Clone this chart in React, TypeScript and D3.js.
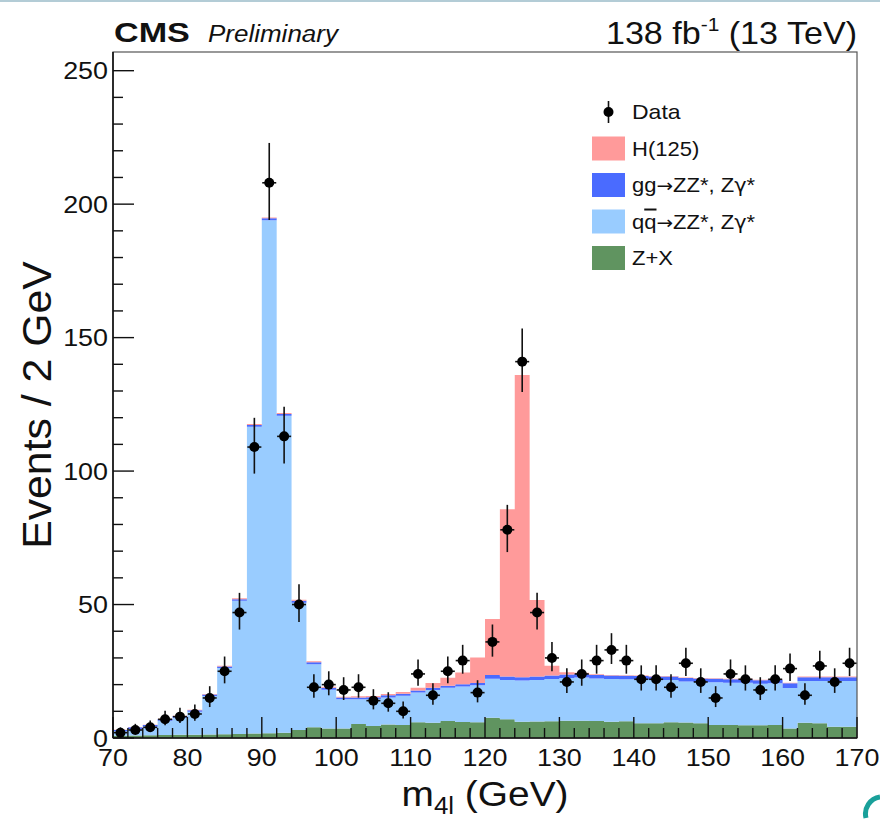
import React from 'react';
import * as d3 from 'd3';

// ---- data (2 GeV bins, 70-170 GeV) ----
const binCenters = [71, 73, 75, 77, 79, 81, 83, 85, 87, 89, 91, 93, 95, 97, 99, 101, 103, 105, 107, 109,
  111, 113, 115, 117, 119, 121, 123, 125, 127, 129, 131, 133, 135, 137, 139, 141, 143, 145, 147, 149,
  151, 153, 155, 157, 159, 161, 163, 165, 167, 169];

const dataCounts = [2, 3, 4, 7, 8, 9, 15, 25, 47, 109, 208, 113, 50, 19, 20, 18, 19, 14, 13, 10,
  24, 16, 25, 29, 17, 36, 78, 141, 47, 30, 21, 24, 29, 33, 29, 22, 22, 19, 28, 21,
  15, 24, 22, 18, 22, 26, 16, 27, 21, 28];

const zPlusX = [0.8, 0.9, 1.0, 1.1, 1.2, 1.2, 1.3, 1.4, 1.5, 1.7, 1.8, 2.0, 3.0, 4.0, 3.6, 3.6, 5.2, 4.5, 5.1, 4.9,
  5.9, 5.7, 6.4, 6.0, 5.9, 7.6, 7.0, 6.1, 6.2, 6.3, 6.5, 6.5, 6.4, 6.1, 6.3, 5.5, 5.5, 5.9, 5.8, 5.5,
  4.9, 4.9, 4.8, 4.8, 4.9, 3.6, 5.7, 5.5, 4.2, 4.2];

const qqZZ = [1.7, 2.5, 3.3, 5.4, 6.4, 8.6, 14.4, 24.8, 49.9, 114.9, 192.2, 118.7, 47.7, 23.6, 14.5, 10.9, 9.3, 10.1, 10.1, 10.9,
  11.1, 12.3, 12.4, 13.3, 13.9, 14.6, 14.7, 15.4, 15.5, 15.8, 16.0, 16.2, 15.9, 16.0, 15.7, 16.4, 16.2, 15.8, 15.4, 15.5,
  16.0, 15.8, 15.9, 15.5, 15.6, 15.1, 15.7, 15.9, 17.2, 17.2];

const ggZZ = [0.5, 0.6, 0.6, 0.6, 0.6, 0.6, 0.6, 0.6, 0.6, 0.7, 0.7, 0.7, 0.7, 0.8, 0.7, 0.7, 0.7, 0.7, 0.8, 0.8,
  0.8, 0.8, 0.8, 0.8, 0.8, 1.4, 1.3, 1.3, 1.3, 1.3, 1.3, 1.3, 1.3, 1.3, 1.3, 1.3, 1.3, 1.3, 1.3, 1.3,
  1.3, 1.3, 1.3, 1.3, 1.3, 1.8, 1.4, 1.4, 1.4, 1.4];

const higgs = [0.1, 0.1, 0.1, 0.1, 0.1, 0.2, 0.2, 0.3, 0.4, 0.3, 0.3, 0.4, 0.4, 0.4, 0.4, 0.3, 0.4, 0.4, 0.5, 0.6,
  1.0, 1.8, 3.0, 4.4, 9.6, 21.0, 62.7, 113.2, 28.7, 3.7, 0.8, 0.4, 0.3, 0.2, 0.2, 0.2, 0.2, 0.2, 0.2, 0.2,
  0.2, 0.2, 0.2, 0.2, 0.2, 0.2, 0.2, 0.2, 0.2, 0.2];

const xTickLabels = [70, 80, 90, 100, 110, 120, 130, 140, 150, 160, 170];
const yTickLabels = [0, 50, 100, 150, 200, 250];

const processKeys = ['zx', 'qq', 'gg', 'h'];
const processColors: Record<string, string> = { zx: '#609460', qq: '#99ccff', gg: '#4a6bff', h: '#ff9a9a' };
const legendEntries = [
  { key: 'h', label: 'H(125)' },
  { key: 'gg', label: 'gg' },
  { key: 'qq', label: 'qq' },
  { key: 'zx', label: 'Z+X' },
];

const FONT = '"Liberation Sans", Arial, Helvetica, sans-serif';
const SYM = '"DejaVu Sans", "Liberation Sans", sans-serif';

function SText(props: any) {
  const { x, y, sx = 1.15, rot = 0, anchor = 'start', children, ...rest } = props;
  const tr = `translate(${x},${y})` + (rot ? ` rotate(${rot})` : '') + ` scale(${sx},1)`;
  return (
    <text transform={tr} textAnchor={anchor} fill="#111" {...rest}>{children}</text>
  );
}

export default function App() {
  const W = 880, H = 822;
  const L = 113, R = 857, T = 52, B = 738;
  const x = d3.scaleLinear().domain([70, 170]).range([L, R]);
  const y = d3.scaleLinear().domain([0, 257]).range([B, T]);
  const binW = 2;

  const rows = binCenters.map((c, i) => ({ c, zx: zPlusX[i], qq: qqZZ[i], gg: ggZZ[i], h: higgs[i] }));
  const stacked = d3.stack<any>().keys(processKeys)(rows);

  type P = { xv: number; y0: number; y1: number };
  const area = d3.area<P>()
    .curve(d3.curveStepAfter)
    .x((p) => x(p.xv))
    .y0((p) => y(p.y0))
    .y1((p) => y(p.y1));

  const layerPaths = stacked.map((s) => {
    const pts: P[] = s.map((d, i) => ({ xv: binCenters[i] - binW / 2, y0: d[0], y1: d[1] }));
    const last = s[s.length - 1];
    pts.push({ xv: binCenters[binCenters.length - 1] + binW / 2, y0: last[0], y1: last[1] });
    return { key: s.key as string, d: area(pts) || '' };
  });

  const xMinor = binCenters.map((c) => c - 1).concat([170]).filter((v) => v % 10 !== 0);
  const yMinor = d3.range(0, 257, 10).filter((v) => v % 50 !== 0);

  // Poisson (Garwood-like) intervals
  const errLo = (n: number) => n + 0.5 - Math.sqrt(n + 0.25);
  const errHi = (n: number) => n + 0.5 + Math.sqrt(n + 0.25);

  const legX = 592, legBoxW = 33, legBoxH = 24, legTextX = 632;
  const legRow0 = 112, legStep = 36.5;

  return (
    <svg width={W} height={H} viewBox={`0 0 ${W} ${H}`}
      style={{ position: 'absolute', left: 0, top: 0, display: 'block', background: '#fff' }}
      fontFamily={FONT}>
      <rect x={0} y={0} width={W} height={H} fill="#fff" />
      <rect x={0} y={0} width={W} height={2} fill="#b3ccd6" />

      {/* stacked histograms */}
      {layerPaths.map((lp) => (
        <path key={lp.key} d={lp.d} fill={processColors[lp.key]} stroke="none" />
      ))}

      {/* frame */}
      <rect x={L} y={T} width={R - L} height={B - T} fill="none" stroke="#555" strokeWidth={1.2} />
      <line x1={L} x2={L} y1={T} y2={B} stroke="#111" strokeWidth={1.6} />
      <line x1={L} x2={R} y1={B} y2={B} stroke="#111" strokeWidth={1.6} />

      {/* x ticks */}
      {xTickLabels.map((v) => (
        <line key={'xM' + v} x1={x(v)} x2={x(v)} y1={B} y2={B - 21} stroke="#111" strokeWidth={1.4} />
      ))}
      {xMinor.map((v) => (
        <line key={'xm' + v} x1={x(v)} x2={x(v)} y1={B} y2={B - 10} stroke="#111" strokeWidth={1.4} />
      ))}
      {xTickLabels.map((v) => (
        <SText key={'xl' + v} x={x(v)} y={766} fontSize={24} anchor="middle" sx={1.12}>{v}</SText>
      ))}

      {/* y ticks */}
      {yTickLabels.map((v) => (
        <line key={'yM' + v} x1={L} x2={L + 21} y1={y(v)} y2={y(v)} stroke="#111" strokeWidth={1.4} />
      ))}
      {yMinor.map((v) => (
        <line key={'ym' + v} x1={L} x2={L + 10} y1={y(v)} y2={y(v)} stroke="#111" strokeWidth={1.4} />
      ))}
      {yTickLabels.map((v) => (
        <SText key={'yl' + v} x={108} y={y(v) + 8.5} fontSize={24} anchor="end" sx={1.12}>{v}</SText>
      ))}

      {/* data points */}
      {binCenters.map((c, i) => {
        const n = dataCounts[i];
        const cx = x(c), cy = y(n);
        return (
          <g key={'d' + c}>
            <line x1={cx} x2={cx} y1={y(errHi(n))} y2={y(Math.max(0, errLo(n)))} stroke="#111" strokeWidth={1.6} />
            <line x1={cx - 7} x2={cx + 7} y1={cy} y2={cy} stroke="#111" strokeWidth={1.6} />
            <circle cx={cx} cy={cy} r={5} fill="#000" />
          </g>
        );
      })}

      {/* legend */}
      <g>
        <line x1={legX + legBoxW / 2} x2={legX + legBoxW / 2} y1={legRow0 - 11} y2={legRow0 + 11} stroke="#111" strokeWidth={1.6} />
        <circle cx={legX + legBoxW / 2} cy={legRow0} r={5} fill="#000" />
        <SText x={legTextX} y={legRow0 + 7} fontSize={20}>Data</SText>
        {legendEntries.map((e, i) => {
          const cy = legRow0 + legStep * (i + 1);
          return (
            <g key={e.key}>
              <rect x={legX} y={cy - legBoxH / 2} width={legBoxW} height={legBoxH} fill={processColors[e.key]} />
              <SText x={legTextX} y={cy + 7} fontSize={20} sx={1.1}>
                {e.key === 'gg' && <>gg<tspan fontFamily={SYM} fontSize={18}>→</tspan>ZZ*, Z<tspan fontFamily={SYM} fontSize={19}>γ</tspan>*</>}
                {e.key === 'qq' && <>q<tspan style={{ textDecoration: 'overline' }}>q</tspan><tspan fontFamily={SYM} fontSize={18}>→</tspan>ZZ*, Z<tspan fontFamily={SYM} fontSize={19}>γ</tspan>*</>}
                {e.key !== 'gg' && e.key !== 'qq' && e.label}
              </SText>
            </g>
          );
        })}
      </g>

      {/* header texts */}
      <SText x={114} y={41.5} fontSize={28} fontWeight="bold" sx={1.22}>CMS</SText>
      <SText x={208} y={41.5} fontSize={23} fontStyle="italic" sx={1.13}>Preliminary</SText>
      <SText x={857} y={44} fontSize={31} anchor="end" sx={1.1}>
        138 fb<tspan fontSize={19} dy={-13}>-1</tspan><tspan dy={13}> (13 TeV)</tspan>
      </SText>

      {/* axis titles */}
      <SText x={485} y={806} fontSize={36} anchor="middle" sx={1.08}>
        m<tspan fontSize={24} dy={8}>4l</tspan><tspan dy={-8}> (GeV)</tspan>
      </SText>
      <SText x={51} y={(T + B) / 2 + 10} rot={-90} fontSize={40} anchor="middle" sx={1.07}>
        Events / 2 GeV
      </SText>

      {/* partial teal logo at bottom-right corner */}
      <path d="M 866 818 A 17 17 0 0 1 880 797" fill="none" stroke="#19a09a" strokeWidth={5} />
    </svg>
  );
}
